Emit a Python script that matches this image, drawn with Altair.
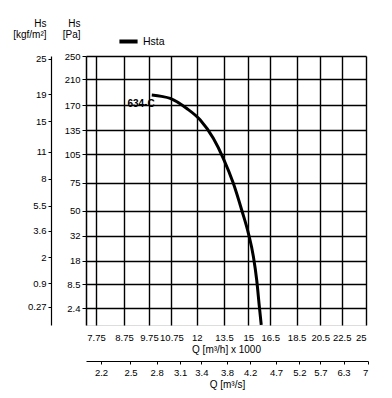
import math
import altair as alt
import pandas as pd

# ---- data ----
q_flow = [9.87, 10.3, 10.69, 11.49, 12.17, 12.89, 13.46, 14.06, 14.58, 15.01, 15.34, 15.56, 15.74, 15.87]  # m3/h x1000
p_static = [185, 183, 180, 165, 149, 124.5, 100.6, 74.2, 50.5, 33.5, 19.9, 9.9, 2.7, 0.37]            # Pa
series_name = "Hsta"
curve_label = "634-C"
label_q, label_p = 9.42, 171

pa_ticks = [2.4, 8.5, 18, 32, 50, 75, 105, 135, 170, 210, 250]
kgf_ticks = [0.27, 0.9, 2, 3.6, 5.5, 8, 11, 15, 19, 25]
qh_ticks = [7.75, 8.75, 9.75, 10.75, 12, 13.5, 15, 16.5, 18.5, 20.5, 22.5, 25]
qs_ticks = [2.2, 2.5, 2.8, 3.1, 3.4, 3.8, 4.2, 4.7, 5.2, 5.7, 6.3, 7]

PA_PER_KGF = 9.81
H_PER_S = 3.6  # (m3/h x1000) per (m3/s)

q_dom = [7.42, 25.0]
p_dom = [0.366, 250.0]

W, H = 280, 269
FONT = "Liberation Sans, Arial, sans-serif"
FS = 9.5

df = pd.DataFrame({"q": q_flow, "p": p_static, "series": series_name})
lab = pd.DataFrame({"q": [label_q], "p": [label_p], "t": [curve_label]})

xs = alt.Scale(type="log", domain=q_dom, nice=False, zero=False)
ys = alt.Scale(type="sqrt", domain=p_dom, nice=False, zero=False)

axis_common = dict(labelFont=FONT, labelFontSize=FS, labelColor="black",
                   titleFont=FONT, titleFontSize=10, titleFontWeight="normal",
                   titleColor="black", tickColor="black", domainColor="black",
                   format=".4~r", labelOverlap=False)

base = alt.Chart(df)

curve = base.mark_line(strokeWidth=3, interpolate="monotone", clip=True).encode(
    x=alt.X("q:Q", scale=xs,
            axis=alt.Axis(values=qh_ticks, grid=True, gridColor="black", gridWidth=1.4,
                          gridOpacity=1, tickSize=0, labelPadding=7, domain=False,
                          title="Q [m³/h] x 1000", titlePadding=3, **axis_common)),
    y=alt.Y("p:Q", scale=ys,
            axis=alt.Axis(values=pa_ticks, grid=True, gridColor="black", gridWidth=1.4,
                          gridOpacity=1, tickSize=4, labelPadding=2, domainWidth=1.5,
                          title=["Hs", "[Pa]"], titleAngle=0, titleAlign="right",
                          titleBaseline="bottom", titleX=-6, titleY=-28,
                          titleLineHeight=11, **axis_common)),
    color=alt.Color("series:N",
                    scale=alt.Scale(domain=[series_name], range=["black"]),
                    legend=alt.Legend(title=None, orient="none", legendX=31, legendY=-26,
                                      symbolType="stroke", symbolStrokeWidth=4,
                                      symbolSize=330, labelFont=FONT, labelFontSize=10.5,
                                      labelColor="black", labelOffset=3, padding=0)),
)

kgf_layer = base.transform_calculate(kgf=f"datum.p / {PA_PER_KGF}").mark_line(opacity=0).encode(
    x=alt.X("q:Q", scale=xs, axis=None),
    y=alt.Y("kgf:Q",
            scale=alt.Scale(type="sqrt", domain=[p_dom[0] / PA_PER_KGF, p_dom[1] / PA_PER_KGF],
                            nice=False, zero=False),
            axis=alt.Axis(values=kgf_ticks, grid=False, orient="left", offset=35,
                          tickSize=3, labelPadding=2, domainWidth=1.2,
                          title=["Hs", "[kgf/m²]"], titleAngle=0, titleAlign="right",
                          titleBaseline="bottom", titleX=-5, titleY=-28,
                          titleLineHeight=11, **axis_common)),
)

qs_range_max = W * math.log(qs_ticks[-1] * H_PER_S / q_dom[0]) / math.log(q_dom[1] / q_dom[0])
qs_layer = base.transform_calculate(qs=f"datum.q / {H_PER_S}").mark_line(opacity=0).encode(
    x=alt.X("qs:Q",
            scale=alt.Scale(type="log", domain=[q_dom[0] / H_PER_S, qs_ticks[-1]],
                            nice=False, zero=False, rangeMax=qs_range_max),
            axis=alt.Axis(values=qs_ticks, grid=False, orient="bottom", offset=36,
                          tickSize=3, labelPadding=3, domainWidth=1.2,
                          title="Q [m³/s]", titlePadding=3, **axis_common)),
    y=alt.Y("p:Q", scale=ys, axis=None),
)

text_layer = alt.Chart(lab).mark_text(font=FONT, fontSize=10, fontWeight="bold",
                                      color="black", align="center", baseline="middle").encode(
    x=alt.X("q:Q", scale=xs, axis=None),
    y=alt.Y("p:Q", scale=ys, axis=None),
    text="t:N",
)

chart = alt.layer(curve, kgf_layer, qs_layer, text_layer).resolve_scale(
    x="independent", y="independent"
).properties(
    width=W, height=H,
    autosize=alt.AutoSizeParams(type="none"),
    padding={"left": 78, "top": 48, "right": 16, "bottom": 72},
).configure_view(
    stroke="black", strokeWidth=1.5, fill="#EBEDEC"
).configure(background="white")

chart.save("out.html", embed_options={"renderer": "svg", "actions": False})
